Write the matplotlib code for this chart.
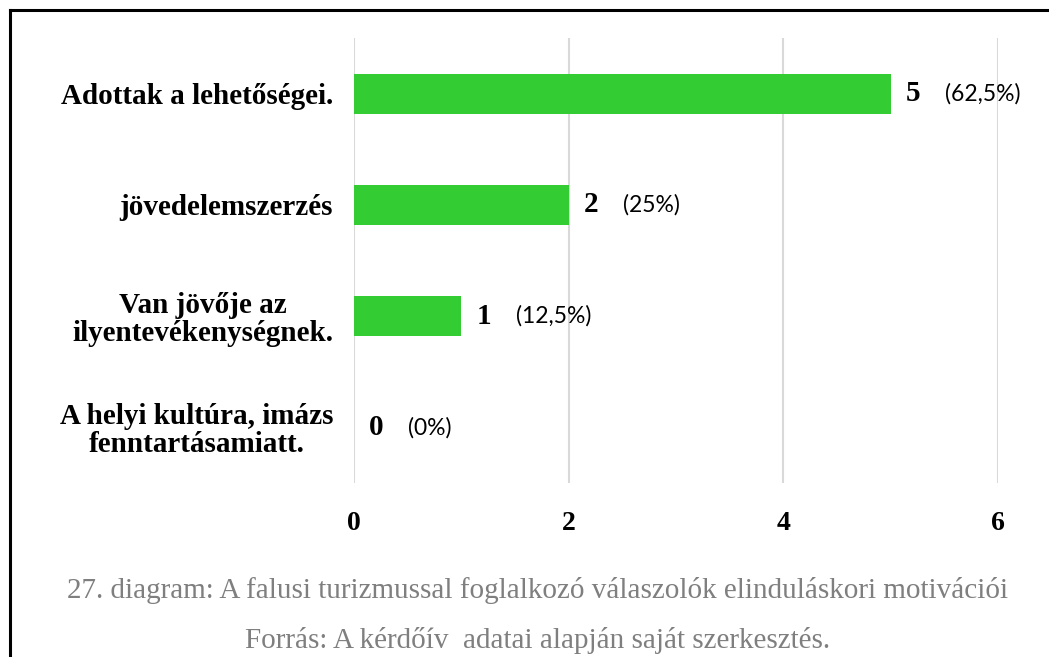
import matplotlib.pyplot as plt
from matplotlib.lines import Line2D

# Data for the plot (top to bottom)
categories = ['Adottak a lehetőségei.', 'jövedelemszerzés',
              'Van jövője az\nilyentevékenységnek.',
              'A helyi kultúra, imázs\nfenntartásamiatt.']
counts = [5, 2, 1, 0]
percents = ['(62,5%)', '(25%)', '(12,5%)', '(0%)']
xticks = [0, 2, 4, 6]

caption1 = '27. diagram: A falusi turizmussal foglalkozó válaszolók elinduláskori motivációi'
caption2 = 'Forrás: A kérdőív  adatai alapján saját szerkesztés.'

serif = 'Liberation Serif'

fig = plt.figure(figsize=(10.49, 6.57), dpi=100)
ax = fig.add_axes([0.3375, 0.2648, 0.6139, 0.6774])

pos = list(range(len(categories)))
ax.barh(pos, counts, height=0.36, color='#33CC33', edgecolor='#2DB82D', linewidth=0, zorder=3)

ax.set_xlim(0, 6)
ax.set_ylim(3.5, -0.5)
ax.set_xticks(xticks)
ax.set_xticklabels([str(t) for t in xticks], fontfamily=serif, fontweight='bold', fontsize=20)
ax.set_yticks(pos)
ax.set_yticklabels(categories, fontfamily=serif, fontweight='bold', fontsize=21,
                   multialignment='center', linespacing=1.05)
ax.tick_params(axis='y', length=0, pad=15)
ax.tick_params(axis='x', length=0, pad=20)

ax.grid(axis='x', color='#D9D9D9', linewidth=1.5, zorder=0)
for s in ax.spines.values():
    s.set_visible(False)

# value labels: count in bold serif, percentage in sans
for p, c, pc in zip(pos, counts, percents):
    ax.annotate(str(c), (c, p), xytext=(11, 0), textcoords='offset points',
                va='center', ha='left', fontfamily=serif, fontweight='bold', fontsize=21)
    ax.annotate(pc, (c, p), xytext=(39, 0), textcoords='offset points',
                va='center', ha='left', fontfamily='Lato', fontsize=16.5)

# captions
fig.text(0.512, 1 - 591 / 657, caption1, ha='center', va='center',
         fontfamily=serif, fontsize=21, color='#7F7F7F')
fig.text(0.512, 1 - 641 / 657, caption2, ha='center', va='center',
         fontfamily=serif, fontsize=21, color='#7F7F7F')

# frame lines (top and left)
fig.add_artist(Line2D([10 / 1049, 1], [1 - 10 / 657, 1 - 10 / 657],
                      color='black', linewidth=2.2, transform=fig.transFigure))
fig.add_artist(Line2D([10 / 1049, 10 / 1049], [0, 1 - 10 / 657],
                      color='black', linewidth=2.2, transform=fig.transFigure))

fig.savefig('out.png', dpi=100)
